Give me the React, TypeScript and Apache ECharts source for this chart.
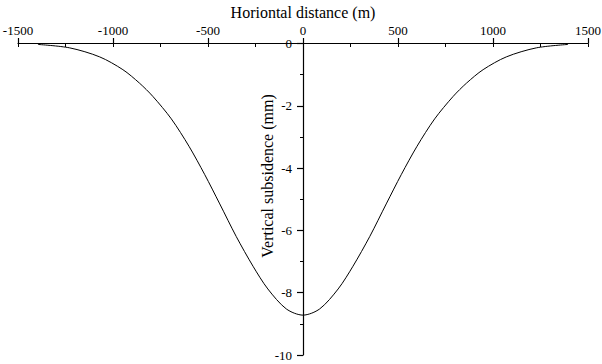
import React, { useEffect, useRef } from "react";
import * as echarts from "echarts";

// Horizontal distance from the trough centre (m)
const distance = [
  -1395, -1228, -1070, -948, -861, -790, -693, -600, -518, -438, -351, -263, -185, -88,
  0, 88, 185, 263, 351, 438, 518, 600, 693, 790, 861, 948, 1070, 1228, 1395,
];
// Vertical subsidence (mm)
const subsidence = [
  -0.03, -0.14, -0.43, -0.84, -1.27, -1.7, -2.42, -3.3, -4.2, -5.15, -6.2, -7.15, -7.88, -8.52,
  -8.72, -8.52, -7.88, -7.15, -6.2, -5.15, -4.2, -3.3, -2.42, -1.7, -1.27, -0.84, -0.43, -0.14, -0.03,
];

const xTitle = "Horiontal distance (m)";
const yTitle = "Vertical subsidence (mm)";

const FONT = "Liberation Serif";
const INK = "#000";

const WIDTH = 602;
const HEIGHT = 364;
const GRID_LEFT = 18;
const GRID_RIGHT = 14;
const GRID_TOP = 43.5;
const GRID_BOTTOM = 9;
const PLOT_H = HEIGHT - GRID_TOP - GRID_BOTTOM;
// pixel position of x = 0, where the vertical axis sits
const ZERO_X = GRID_LEFT + (WIDTH - GRID_LEFT - GRID_RIGHT) / 2;

export default function App() {
  const ref = useRef<HTMLDivElement>(null);

  useEffect(() => {
    if (!ref.current) return;
    const chart = echarts.init(ref.current, null, { renderer: "svg" });
    const points = distance.map((d, i) => [d, subsidence[i]]);
    const plain = (v: number) => String(v);

    chart.setOption({
      animation: false,
      backgroundColor: "#fff",
      grid: {
        left: GRID_LEFT,
        right: GRID_RIGHT,
        top: GRID_TOP,
        bottom: GRID_BOTTOM,
        containLabel: false,
        outerBoundsMode: "none",
      },
      xAxis: [
        {
          type: "value",
          position: "top",
          min: -1500,
          max: 1500,
          interval: 500,
          axisLine: { show: true, onZero: false, lineStyle: { color: INK, width: 1.2 } },
          axisTick: { show: true, inside: false, length: 5.5, lineStyle: { color: INK, width: 1.2 } },
          axisLabel: { fontFamily: FONT, fontSize: 13, color: INK, margin: 7, formatter: plain },
          splitLine: { show: false },
        },
        {
          // short downward ticks every 250 m hanging from the top axis line
          type: "value",
          position: "bottom",
          offset: -PLOT_H,
          min: -1500,
          max: 1500,
          interval: 250,
          axisLine: { show: false, onZero: false },
          axisTick: { show: true, inside: false, length: 3.5, lineStyle: { color: INK, width: 1 } },
          axisLabel: { show: false },
          splitLine: { show: false },
        },
      ],
      yAxis: {
        type: "value",
        position: "left",
        offset: -(ZERO_X - GRID_LEFT),
        min: -10,
        max: 0,
        interval: 2,
        axisLine: { show: true, onZero: false, lineStyle: { color: INK, width: 1.2 } },
        axisTick: { show: true, inside: false, length: 6, lineStyle: { color: INK, width: 1.2 } },
        minorTick: { show: true, splitNumber: 2, length: 3, lineStyle: { color: INK, width: 1 } },
        axisLabel: { fontFamily: FONT, fontSize: 13, color: INK, margin: 11, formatter: plain },
        splitLine: { show: false },
      },
      graphic: [
        {
          type: "text",
          x: ZERO_X,
          y: 12,
          style: {
            text: xTitle,
            fontFamily: FONT,
            fontSize: 16,
            fill: INK,
            align: "center",
            verticalAlign: "middle",
          },
        },
        {
          type: "text",
          x: 267,
          y: 176,
          rotation: Math.PI / 2,
          style: {
            text: yTitle,
            fontFamily: FONT,
            fontSize: 16,
            fill: INK,
            align: "center",
            verticalAlign: "middle",
          },
        },
      ],
      series: [
        {
          type: "line",
          xAxisIndex: 0,
          data: points,
          smooth: 0.3,
          showSymbol: false,
          symbol: "none",
          lineStyle: { color: INK, width: 1 },
          z: 1,
        },
      ],
    });

    return () => chart.dispose();
  }, []);

  return (
    <div
      ref={ref}
      style={{ position: "absolute", left: 0, top: 0, width: WIDTH, height: HEIGHT }}
    />
  );
}
